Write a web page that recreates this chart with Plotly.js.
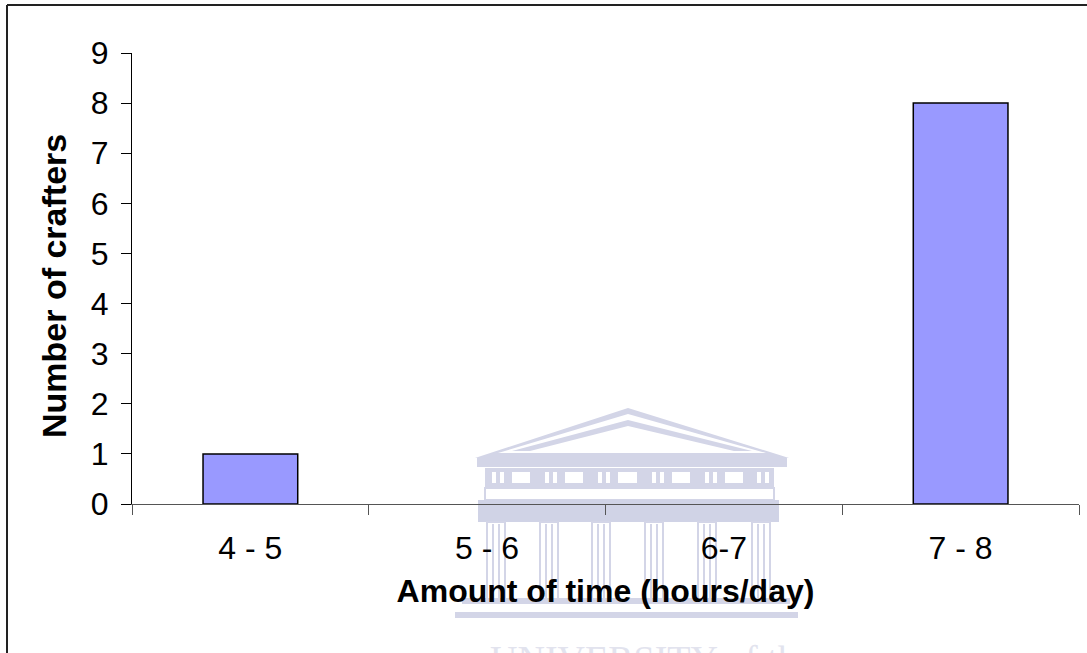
<!DOCTYPE html>
<html>
<head>
<meta charset="utf-8">
<script src="https://cdn.plot.ly/plotly-3.0.1.min.js"></script>
<style>
  html, body { margin: 0; padding: 0; background: #ffffff; }
  #chart { width: 1087px; height: 653px; }
</style>
</head>
<body>
<div id="chart"></div>
<script>
// Daily working time of the crafters
const timeRanges = ['4 - 5', '5 - 6', '6-7', '7 - 8'];
const crafterCounts = [1, 0, 0, 8];
const yTickValues = [0, 1, 2, 3, 4, 5, 6, 7, 8, 9];

const W = 1087, H = 653;
const M = { l: 132, r: 8, t: 53, b: 149 };
const pw = W - M.l - M.r, ph = H - M.t - M.b;
// pixel -> paper coordinate helpers for the decorative layer
const fx = x => (x - M.l) / pw;
const fy = y => (H - M.b - y) / ph;

const shapes = [];
const wm = '#d3d5e7', wmDark = '#d0d3e6';

function rect(x0, y0, x1, y1, fill, line) {
  shapes.push({
    type: 'rect', xref: 'paper', yref: 'paper', layer: 'below',
    x0: fx(x0), x1: fx(x1), y0: fy(y1), y1: fy(y0),
    fillcolor: fill || 'rgba(0,0,0,0)',
    line: { width: line ? 2 : 0, color: line || 'rgba(0,0,0,0)' }
  });
}
function poly(pts, fill) {
  const d = pts.map((p, i) => (i ? 'L' : 'M') + fx(p[0]) + ',' + fy(p[1])).join(' ') + ' Z';
  shapes.push({
    type: 'path', xref: 'paper', yref: 'paper', layer: 'below', path: d,
    fillcolor: fill, line: { width: 0 }
  });
}

// emblem: pediment
poly([[475, 458], [628, 408], [789, 458]], wm);
poly([[498, 453], [628, 414], [766, 453]], '#ffffff');
poly([[512, 451], [628, 420], [752, 451]], wm);
poly([[530, 451], [628, 426], [734, 451]], '#ffffff');
// cornice and frieze
rect(477, 458, 787, 467, wm);
rect(485, 468, 774, 487, wm);
[[512, 530], [565, 583], [618, 637], [672, 690], [725, 743]].forEach(w => rect(w[0], 472, w[1], 483, '#ffffff'));
[[492, 496], [500, 504], [545, 549], [553, 557], [598, 602], [606, 610], [652, 656], [660, 664], [705, 709], [713, 717], [757, 761], [765, 769]]
  .forEach(w => rect(w[0], 472, w[1], 483, '#ffffff'));
rect(485, 488, 774, 500, '#ffffff', wm);
rect(478, 500, 779, 522, wmDark);
// columns
[487, 540, 592, 645, 698, 752].forEach(c => {
  rect(c, 522, c + 18, 600, '#ffffff', wm);
  rect(c + 5, 524, c + 7, 598, wm);
  rect(c + 11, 524, c + 13, 598, wm);
});
// steps
rect(462, 598, 790, 604, wm);
rect(455, 612, 798, 618, wm);

// frame around the figure
shapes.push({ type: 'line', xref: 'paper', yref: 'paper', x0: fx(7), x1: fx(1090), y0: fy(5), y1: fy(5), line: { color: '#222', width: 2 } });
shapes.push({ type: 'line', xref: 'paper', yref: 'paper', x0: fx(7), x1: fx(7), y0: fy(5), y1: fy(660), line: { color: '#222', width: 2 } });

const trace = {
  type: 'bar',
  x: timeRanges,
  y: crafterCounts,
  width: 0.4,
  marker: {
    color: '#9999FF',
    // empty categories get no outline
    line: { color: '#000000', width: crafterCounts.map(v => (v > 0 ? 1.5 : 0)) }
  },
  hoverinfo: 'x+y'
};

const layout = {
  width: W, height: H,
  margin: M,
  paper_bgcolor: '#ffffff',
  plot_bgcolor: 'rgba(0,0,0,0)',
  showlegend: false,
  font: { family: 'Liberation Sans, Arial, sans-serif', color: '#000000', size: 32 },
  xaxis: {
    type: 'category',
    range: [-0.5, 3.5],
    showline: true, linecolor: '#555555', linewidth: 1,
    ticks: 'outside', tickson: 'boundaries', ticklen: 10, tickcolor: '#555555', tickwidth: 1,
    showgrid: false, zeroline: false,
    tickfont: { size: 32 },
    ticklabelstandoff: 16,
    title: { text: '<b>Amount of time (hours/day)</b>', font: { size: 32 }, standoff: 14 }
  },
  yaxis: {
    range: [0, 9],
    tickvals: yTickValues,
    ticktext: yTickValues.map(String),
    showline: true, linecolor: '#000000', linewidth: 1,
    ticks: 'outside', ticklen: 10, tickcolor: '#000000', tickwidth: 1,
    showgrid: false, zeroline: false,
    tickfont: { size: 32 },
    ticklabelstandoff: 6
  },
  shapes: shapes,
  annotations: [
    {
      xref: 'paper', yref: 'paper', x: fx(54), y: fy(286),
      xanchor: 'center', yanchor: 'middle', showarrow: false, textangle: -90,
      text: '<b>Number of crafters</b>', font: { size: 34, color: '#000000' }
    },
    {
      xref: 'paper', yref: 'paper', x: fx(652), y: fy(636),
      xanchor: 'center', yanchor: 'top', showarrow: false,
      text: 'UNIVERSITY of the', font: { size: 38, color: '#e2e3ee', family: 'Liberation Serif, serif' }
    }
  ]
};

Plotly.newPlot('chart', [trace], layout, { displayModeBar: false, staticPlot: true });
</script>
</body>
</html>
